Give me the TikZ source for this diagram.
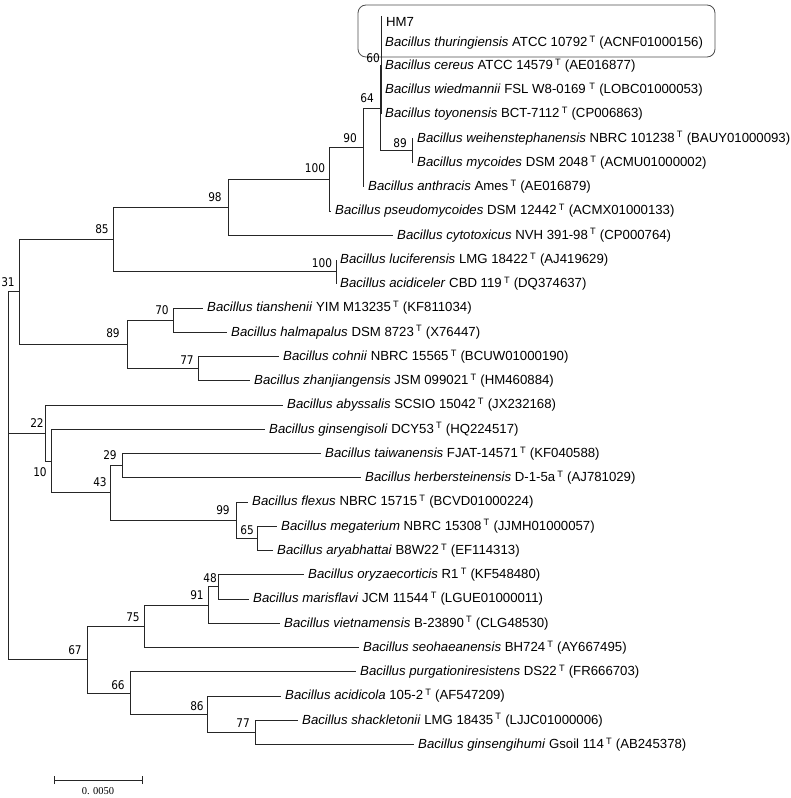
\documentclass[tikz,border=0pt]{standalone}
\usepackage{fontspec}
\setmainfont{Liberation Sans}
\newfontfamily\bsfont[FakeStretch=0.88]{DejaVu Sans}
\newfontfamily\sbfont{Liberation Serif}
\newcommand\typT{\,\textsuperscript{T}}
\begin{document}
\begin{tikzpicture}[x=1pt,y=-1pt,
  br/.style={draw=black!85, line width=1pt},
  leaf/.style={anchor=west, inner xsep=4pt, inner ysep=0pt, font=\fontsize{13.2}{15}\selectfont},
  bs/.style={inner sep=0pt, font=\bsfont\fontsize{12}{14}\selectfont},
  hibox/.style={draw=black!70, line width=0.8pt, rounded corners=8pt}]
\useasboundingbox (0,0) rectangle (790,798);
% highlight box
\draw[hibox] (358,5) rectangle (715,57);
% internal nodes
\coordinate (root) at (8,433);
\coordinate (n60) at (381,65.5);
\coordinate (n89a) at (412,150.4);
\coordinate (n64) at (380,108);
\coordinate (n90) at (363,147.4);
\coordinate (n100a) at (329,179.2);
\coordinate (n98) at (228,207.2);
\coordinate (n100b) at (336,271.6);
\coordinate (n85) at (113,239.4);
\coordinate (n70) at (173,320.1);
\coordinate (n77a) at (198,368.6);
\coordinate (n89b) at (127,344.4);
\coordinate (n31) at (19,291.9);
\coordinate (n29) at (122,465.6);
\coordinate (n65) at (257,538.4);
\coordinate (n99) at (236,520.2);
\coordinate (n43) at (110,492.9);
\coordinate (n10) at (51,461.1);
\coordinate (n22) at (45,433.1);
\coordinate (n48) at (218,586.9);
\coordinate (n91) at (208,605.1);
\coordinate (n75) at (144,626.3);
\coordinate (n77b) at (255,732.4);
\coordinate (n86) at (207,714.2);
\coordinate (n66) at (130,693.0);
\coordinate (n67) at (87,659.7);
\coordinate (topend) at (381,16);
% leaves
\node[leaf] (L0) at (382,22) {HM7};
\node[leaf] (L1) at (381,43) {\textit{Bacillus thuringiensis} ATCC 10792\typT{} (ACNF01000156)};
\node[leaf] (L2) at (381,65.5) {\textit{Bacillus cereus} ATCC 14579\typT{} (AE016877)};
\node[leaf] (L3) at (381,89.75) {\textit{Bacillus wiedmannii} FSL W8-0169 \textsuperscript{T} (LOBC01000053)};
\node[leaf] (L4) at (381,114) {\textit{Bacillus toyonensis} BCT-7112\typT{} (CP006863)};
\node[leaf] (L5) at (413,138.25) {\textit{Bacillus weihenstephanensis} NBRC 101238\typT{} (BAUY01000093)};
\node[leaf] (L6) at (413,162.5) {\textit{Bacillus mycoides} DSM 2048\typT{} (ACMU01000002)};
\node[leaf] (L7) at (364,186.75) {\textit{Bacillus anthracis} Ames\typT{} (AE016879)};
\node[leaf] (L8) at (331,211) {\textit{Bacillus pseudomycoides} DSM 12442\typT{} (ACMX01000133)};
\node[leaf] (L9) at (393,235.25) {\textit{Bacillus cytotoxicus} NVH 391-98\typT{} (CP000764)};
\node[leaf] (L10) at (336,259.5) {\textit{Bacillus luciferensis} LMG 18422\typT{} (AJ419629)};
\node[leaf] (L11) at (336,283.75) {\textit{Bacillus acidiceler} CBD 119\typT{} (DQ374637)};
\node[leaf] (L12) at (203,308) {\textit{Bacillus tianshenii} YIM M13235\typT{} (KF811034)};
\node[leaf] (L13) at (227,332.25) {\textit{Bacillus halmapalus} DSM 8723\typT{} (X76447)};
\node[leaf] (L14) at (279,356.5) {\textit{Bacillus cohnii} NBRC 15565\typT{} (BCUW01000190)};
\node[leaf] (L15) at (250,380.75) {\textit{Bacillus zhanjiangensis} JSM 099021\typT{} (HM460884)};
\node[leaf] (L16) at (283,405) {\textit{Bacillus abyssalis} SCSIO 15042\typT{} (JX232168)};
\node[leaf] (L17) at (265,429.25) {\textit{Bacillus ginsengisoli} DCY53\typT{} (HQ224517)};
\node[leaf] (L18) at (321,453.5) {\textit{Bacillus taiwanensis} FJAT-14571\typT{} (KF040588)};
\node[leaf] (L19) at (361,477.75) {\textit{Bacillus herbersteinensis} D-1-5a\typT{} (AJ781029)};
\node[leaf] (L20) at (248,502) {\textit{Bacillus flexus} NBRC 15715\typT{} (BCVD01000224)};
\node[leaf] (L21) at (277,526.25) {\textit{Bacillus megaterium} NBRC 15308\typT{} (JJMH01000057)};
\node[leaf] (L22) at (273,550.5) {\textit{Bacillus aryabhattai} B8W22\typT{} (EF114313)};
\node[leaf] (L23) at (304,574.75) {\textit{Bacillus oryzaecorticis} R1\typT{} (KF548480)};
\node[leaf] (L24) at (249,599) {\textit{Bacillus marisflavi} JCM 11544\typT{} (LGUE01000011)};
\node[leaf] (L25) at (280,623.25) {\textit{Bacillus vietnamensis} B-23890\typT{} (CLG48530)};
\node[leaf] (L26) at (359,647.5) {\textit{Bacillus seohaeanensis} BH724\typT{} (AY667495)};
\node[leaf] (L27) at (356,671.75) {\textit{Bacillus purgationiresistens} DS22\typT{} (FR666703)};
\node[leaf] (L28) at (281,696) {\textit{Bacillus acidicola} 105-2\typT{} (AF547209)};
\node[leaf] (L29) at (298,720.25) {\textit{Bacillus shackletonii} LMG 18435\typT{} (LJJC01000006)};
\node[leaf] (L30) at (414,744.5) {\textit{Bacillus ginsengihumi} Gsoil 114\typT{} (AB245378)};
% branches
\draw[br] (n60) -- (topend);
\draw[br] (n60) |- (L1.west);
\draw[br] (n60) |- (L2.west);
\draw[br] (n60) |- (L3.west);
\draw[br] (n60) |- (L4.west);
\draw[br] (n89a) |- (L5.west);
\draw[br] (n89a) |- (L6.west);
\draw[br] (n64) |- (n60);
\draw[br] (n64) |- (n89a);
\draw[br] (n90) |- (n64);
\draw[br] (n90) |- (L7.west);
\draw[br] (n100a) |- (n90);
\draw[br] (n100a) |- (L8.west);
\draw[br] (n98) |- (n100a);
\draw[br] (n98) |- (L9.west);
\draw[br] (n100b) |- (L10.west);
\draw[br] (n100b) |- (L11.west);
\draw[br] (n85) |- (n98);
\draw[br] (n85) |- (n100b);
\draw[br] (n70) |- (L12.west);
\draw[br] (n70) |- (L13.west);
\draw[br] (n77a) |- (L14.west);
\draw[br] (n77a) |- (L15.west);
\draw[br] (n89b) |- (n70);
\draw[br] (n89b) |- (n77a);
\draw[br] (n31) |- (n85);
\draw[br] (n31) |- (n89b);
\draw[br] (n29) |- (L18.west);
\draw[br] (n29) |- (L19.west);
\draw[br] (n65) |- (L21.west);
\draw[br] (n65) |- (L22.west);
\draw[br] (n99) |- (L20.west);
\draw[br] (n99) |- (n65);
\draw[br] (n43) |- (n29);
\draw[br] (n43) |- (n99);
\draw[br] (n10) |- (L17.west);
\draw[br] (n10) |- (n43);
\draw[br] (n22) |- (L16.west);
\draw[br] (n22) |- (n10);
\draw[br] (n48) |- (L23.west);
\draw[br] (n48) |- (L24.west);
\draw[br] (n91) |- (n48);
\draw[br] (n91) |- (L25.west);
\draw[br] (n75) |- (n91);
\draw[br] (n75) |- (L26.west);
\draw[br] (n77b) |- (L29.west);
\draw[br] (n77b) |- (L30.west);
\draw[br] (n86) |- (L28.west);
\draw[br] (n86) |- (n77b);
\draw[br] (n66) |- (L27.west);
\draw[br] (n66) |- (n86);
\draw[br] (n67) |- (n75);
\draw[br] (n67) |- (n66);
\draw[br] (root) |- (n31);
\draw[br] (root) |- (n22);
\draw[br] (root) |- (n67);
% bootstrap values
\node[bs] (b60) at (373,58) {60};
\node[bs] (b64) at (367,98) {64};
\node[bs] (b89a) at (400,143) {89};
\node[bs] (b90) at (350,138) {90};
\node[bs] (b100a) at (315,168) {100};
\node[bs] (b98) at (215,197) {98};
\node[bs] (b100b) at (322,263) {100};
\node[bs] (b85) at (102,229) {85};
\node[bs] (b31) at (8,282) {31};
\node[bs] (b70) at (162,310) {70};
\node[bs] (b89b) at (113,333) {89};
\node[bs] (b77a) at (187,360) {77};
\node[bs] (b22) at (37,423) {22};
\node[bs] (b10) at (40,472) {10};
\node[bs] (b29) at (110,455) {29};
\node[bs] (b43) at (100,482) {43};
\node[bs] (b99) at (223,510) {99};
\node[bs] (b65) at (247,530) {65};
\node[bs] (b48) at (210,578) {48};
\node[bs] (b91) at (197,595) {91};
\node[bs] (b75) at (133,617) {75};
\node[bs] (b67) at (75,650) {67};
\node[bs] (b66) at (118,685) {66};
\node[bs] (b86) at (197,706) {86};
\node[bs] (b77b) at (243,723) {77};
% scale bar
\coordinate (sbL) at (54,780);
\coordinate (sbR) at (142,780);
\draw[br] (sbL) -- (sbR);
\draw[br] ([yshift=-4pt]sbL) -- ([yshift=4pt]sbL);
\draw[br] ([yshift=-4pt]sbR) -- ([yshift=4pt]sbR);
\node[inner sep=0pt, font=\sbfont\fontsize{10.5}{12}\selectfont] (sblabel) at (98,791) {0. 0050};
\end{tikzpicture}
\end{document}
